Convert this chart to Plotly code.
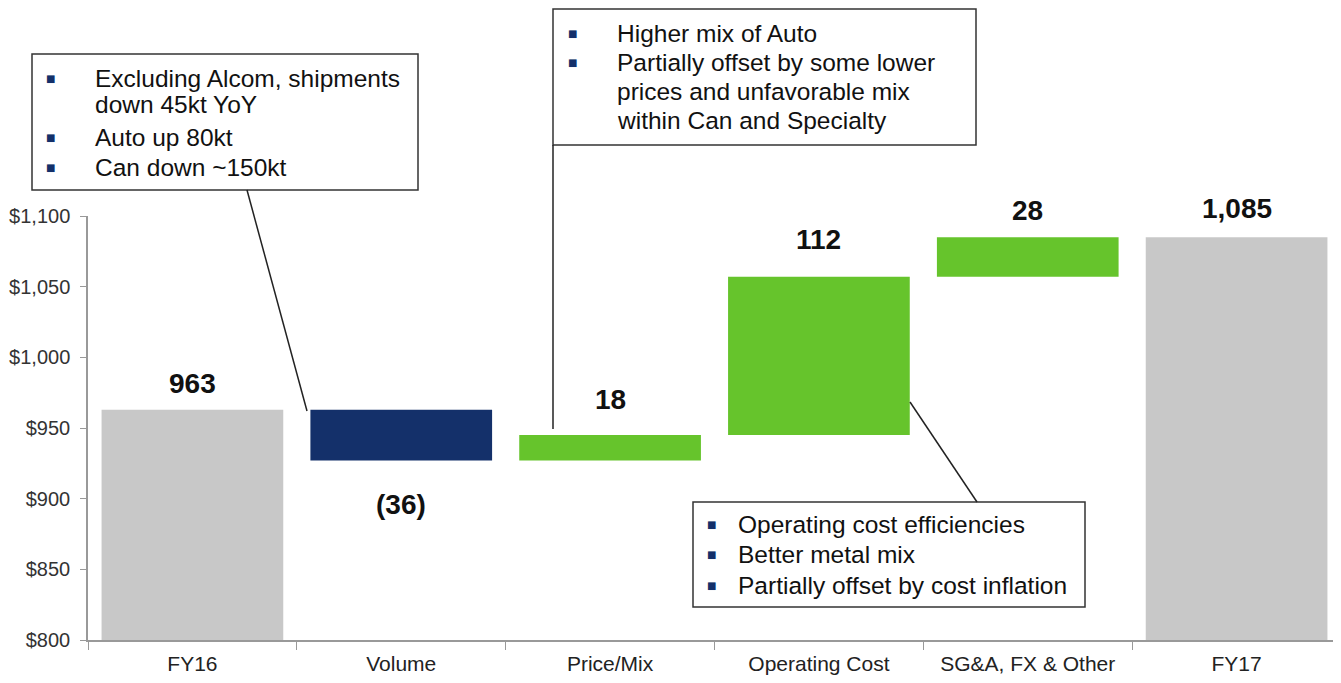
import plotly.graph_objects as go

categories = ["FY16", "Volume", "Price/Mix", "Operating Cost", "SG&A, FX & Other", "FY17"]
bar_base = [800, 927, 927, 945, 1057, 800]
bar_top = [963, 963, 945, 1057, 1085, 1085]
value_labels = ["963", "(36)", "18", "112", "28", "1,085"]
label_values = [963, 927, 945, 1057, 1085, 1085]
label_pos = ["above", "below", "above", "above", "above", "above"]
bar_colors = ["#c8c8c8", "#14306a", "#66c42c", "#66c42c", "#66c42c", "#c8c8c8"]
y_ticks = [800, 850, 900, 950, 1000, 1050, 1100]
y_ticklabels = ["$800", "$850", "$900", "$950", "$1,000", "$1,050", "$1,100"]

# label pixel offsets (styling)
label_shift = [9, -26, 18, 20, 9, 11]

OFF = 8  # page body margin
W, H = 1341 - OFF, 683 - OFF
L, R, T, B = 88 - OFF, 0, 216 - OFF, 43
PW, PH = W - L - R, H - T - B

def px(x):
    return (x - OFF - L) / PW

def py(y):
    return (H - B - (y - OFF)) / PH

FONT = "Liberation Sans, Arial, sans-serif"

fig = go.Figure()
fig.add_trace(go.Bar(
    x=categories,
    y=[t - b for t, b in zip(bar_top, bar_base)],
    base=bar_base,
    marker=dict(color=bar_colors, line=dict(width=0)),
    width=0.87,
    hoverinfo="skip",
))

annotations = []
for c, v, t, p, s in zip(categories, label_values, value_labels, label_pos, label_shift):
    annotations.append(dict(
        x=c, y=v, xref="x", yref="y", text="<b>%s</b>" % t, showarrow=False,
        yanchor="bottom" if p == "above" else "top",
        yshift=s,
        font=dict(family=FONT, size=28, color="#111111"),
    ))

shapes = []
boxes = [
    dict(x0=32, y0=54, x1=418, y1=190, bx=50, tx=93,
         lines=[("Excluding Alcom, shipments", True, 78), ("down 45kt YoY", False, 105),
                ("Auto up 80kt", True, 137), ("Can down ~150kt", True, 167)]),
    dict(x0=553, y0=9, x1=976, y1=145, bx=572, tx=615,
         lines=[("Higher mix of Auto", True, 33), ("Partially offset by some lower", True, 62),
                ("prices and unfavorable mix", False, 91), ("within Can and Specialty", False, 120)]),
    dict(x0=693, y0=502, x1=1085, y1=607, bx=711, tx=736,
         lines=[("Operating cost efficiencies", True, 524), ("Better metal mix", True, 554),
                ("Partially offset by cost inflation", True, 585)]),
]
for bxs in boxes:
    shapes.append(dict(type="rect", xref="paper", yref="paper",
                       x0=px(bxs["x0"]), x1=px(bxs["x1"]), y0=py(bxs["y1"]), y1=py(bxs["y0"]),
                       line=dict(color="#333333", width=1.5), fillcolor="white", layer="above"))
    for text, bullet, yy in bxs["lines"]:
        if bullet:
            annotations.append(dict(x=px(bxs["bx"]), y=py(yy), xref="paper", yref="paper",
                                    text="■", showarrow=False, xanchor="center", yanchor="middle",
                                    font=dict(family="DejaVu Sans", size=10, color="#14306a")))
        annotations.append(dict(x=px(bxs["tx"]), y=py(yy), xref="paper", yref="paper",
                                text=text, showarrow=False, xanchor="left", yanchor="middle",
                                font=dict(family=FONT, size=24.5, color="#111111")))

connectors = [((247, 190), (307, 411)), ((553, 145), (553, 429)), ((910, 402), (977, 502))]
for (x0, y0), (x1, y1) in connectors:
    shapes.append(dict(type="line", xref="paper", yref="paper",
                       x0=px(x0), y0=py(y0), x1=px(x1), y1=py(y1),
                       line=dict(color="#222222", width=1.5), layer="above"))

fig.update_layout(
    width=W, height=H,
    margin=dict(l=L, r=R, t=T, b=B, pad=0),
    paper_bgcolor="white", plot_bgcolor="white",
    showlegend=False,
    bargap=0.13,
    font=dict(family=FONT),
    annotations=annotations,
    shapes=shapes,
    xaxis=dict(
        type="category", range=[-0.5, 5.5],
        showline=True, linecolor="#999999", linewidth=1.5,
        ticks="outside", tickson="boundaries", ticklen=8, tickcolor="#999999",
        tickfont=dict(family=FONT, size=21, color="#222222"),
        ticklabelstandoff=4,
        showgrid=False, zeroline=False,
    ),
    yaxis=dict(
        range=[800, 1100], tickvals=y_ticks, ticktext=y_ticklabels,
        showline=True, linecolor="#999999", linewidth=1.5,
        ticks="outside", ticklen=6, tickcolor="#999999",
        tickfont=dict(family=FONT, size=20, color="#333333"),
        ticklabelstandoff=6,
        showgrid=False, zeroline=False,
    ),
)

fig.write_html("out.html")
